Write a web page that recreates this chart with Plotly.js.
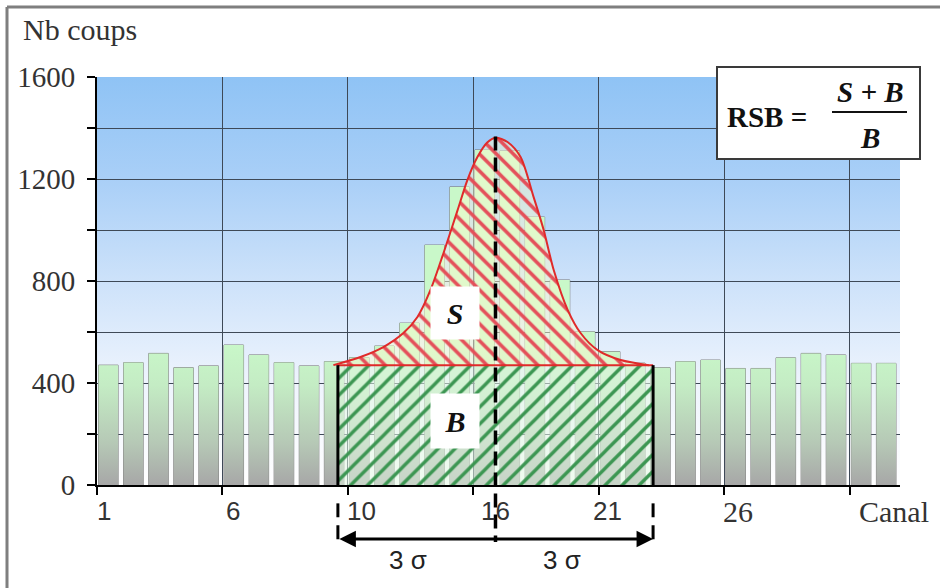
<!DOCTYPE html>
<html><head><meta charset="utf-8">
<script src="https://cdn.plot.ly/plotly-3.0.1.min.js"></script>
<style>html,body{margin:0;padding:0;background:#fff}#chart{width:940px;height:588px}</style>
</head><body><div id="chart"></div>
<script>
// ---- data ----
const channels = [1,2,3,4,5,6,7,8,9,10,11,12,13,14,15,16,17,18,19,20,21,22,23,24,25,26,27,28,29,30,31,32];
const counts   = [470,480,516,460,467,549,510,480,467,484,500,545,635,941,1169,1314,1310,1051,804,601,523,478,460,484,490,457,457,499,516,510,477,477];
// fitted signal curve (S + B)
const fitX = [9.92,11.0,11.91,12.71,13.27,13.79,14.31,14.87,15.26,15.66,16.05,16.38,16.86,17.38,17.9,18.3,18.7,19.26,19.77,20.45,21.37,22.49];
const fitY = [470,502,541,596,659,765,910,1078,1196,1286,1343,1362,1345,1286,1129,1000,843,686,596,529,490,470];
const background = 470;      // B level
const peakChannel = 16.38;   // centre of the peak
const threeSigma = 6.28;     // 3 sigma in channels
const yTickVals = [0,200,400,600,800,1000,1200,1400,1600];
const yTickText = ['0','','400','','800','','1200','','1600'];
const xLabels = ['1','6','10','16','21','26','Canal'];
const xLabelPos = [0.78,5.93,11.03,16.38,20.85,26.04,32.26];
const xLabelSerif = [false,false,false,false,false,true,true];

const serif = 'Liberation Serif, Times New Roman, serif';
const sans = 'Liberation Sans, DejaVu Sans, Arial, sans-serif';

// bar gradient bodies
const bw = 0.78, boff = -0.44;
const gx = [], gy = [];
channels.forEach((c, i) => {
  gx.push(c + boff, c + boff, c + boff + bw, c + boff + bw, null);
  gy.push(0, counts[i], counts[i], 0, null);
});

const L = peakChannel - threeSigma, R = peakChannel + threeSigma;
const peakTop = Math.max(...fitY);

const traces = [
  { type: 'scatter', mode: 'lines', x: gx, y: gy, fill: 'toself', connectgaps: false,
    line: { width: 0, color: 'rgba(0,0,0,0)' },
    fillgradient: { type: 'vertical', start: 0, stop: 560,
      colorscale: [[0, '#a7a7a7'], [0.3, '#b6c9b6'], [0.7, '#c4ecc4'], [1, '#c9f8c9']] },
    hoverinfo: 'skip', showlegend: false },
  { type: 'bar', x: channels, y: counts, width: bw, offset: boff,
    marker: { color: 'rgba(0,0,0,0)', line: { color: '#7d7d7d', width: 1 } },
    hoverinfo: 'skip', showlegend: false },
  // background area B
  { type: 'scatter', mode: 'lines', x: [L, L, R, R], y: [0, background, background, 0],
    fill: 'toself', line: { width: 0, color: 'rgba(0,0,0,0)' },
    fillpattern: { shape: '/', fgcolor: '#3c9652', bgcolor: 'rgba(225,248,225,0.55)', size: 12, solidity: 0.28 },
    hoverinfo: 'skip', showlegend: false },
  // signal area S
  { type: 'scatter', mode: 'lines', x: fitX, y: fitY, fill: 'toself',
    line: { color: '#e02a2a', width: 2, shape: 'spline', smoothing: 0.8 },
    fillpattern: { shape: '\\', fgcolor: '#e4505a', bgcolor: 'rgba(250,250,205,0.5)', size: 12, solidity: 0.3 },
    hoverinfo: 'skip', showlegend: false }
];

const px2x = p => (p - 97) / 803;
const py2y = p => (485 - p) / 408;

const shapes = [
  // outer frame
  { type: 'line', xref: 'paper', yref: 'paper', x0: px2x(7), x1: px2x(7), y0: py2y(7), y1: py2y(592), line: { color: '#7f7f7f', width: 3 } },
  { type: 'line', xref: 'paper', yref: 'paper', x0: px2x(7), x1: px2x(942), y0: py2y(7), y1: py2y(7), line: { color: '#7f7f7f', width: 3 } },
  // right border of plot
  { type: 'line', xref: 'x', yref: 'y', x0: 32.5, x1: 32.5, y0: 0, y1: 1600, line: { color: '#9a9a9a', width: 1 }, layer: 'below' },
  // red baseline of S
  { type: 'line', xref: 'x', yref: 'y', x0: L, x1: R, y0: background, y1: background, line: { color: '#e02a2a', width: 2 } },
  // solid black edges of B
  { type: 'line', xref: 'x', yref: 'y', x0: L, x1: L, y0: 0, y1: background, line: { color: '#000', width: 3 } },
  { type: 'line', xref: 'x', yref: 'y', x0: R, x1: R, y0: 0, y1: background, line: { color: '#000', width: 3 } },
  // dashed continuations below axis
  { type: 'line', xref: 'x', yref: 'paper', x0: L, x1: L, y0: -0.045, y1: py2y(545), line: { color: '#000', width: 3, dash: '14px,8px' } },
  { type: 'line', xref: 'x', yref: 'paper', x0: R, x1: R, y0: -0.045, y1: py2y(545), line: { color: '#000', width: 3, dash: '14px,8px' } },
  // centre dashed line
  { type: 'line', xref: 'x', yref: 'paper', x0: peakChannel, x1: peakChannel, y0: (peakTop + 5) / 1600, y1: py2y(542), line: { color: '#000', width: 3.5, dash: '14px,7px' } },
  // RSB box
  { type: 'rect', xref: 'paper', yref: 'paper', x0: px2x(717), x1: px2x(920), y0: py2y(159), y1: py2y(67),
    fillcolor: '#ffffff', line: { color: '#3a3a3a', width: 2 } },
  { type: 'line', xref: 'paper', yref: 'paper', x0: px2x(832), x1: px2x(907), y0: py2y(112), y1: py2y(112), line: { color: '#111', width: 2 } }
];

const annotations = [
  { text: 'Nb coups', xref: 'paper', yref: 'paper', x: px2x(21), y: py2y(30), xanchor: 'left', yanchor: 'middle',
    showarrow: false, font: { family: serif, size: 30, color: '#333' } },
  { text: '<b><i>S</i></b>', xref: 'x', yref: 'y', x: 14.75, y: 675, xanchor: 'center', yanchor: 'middle', showarrow: false, bgcolor: '#ffffff',
    width: 46, height: 50, font: { family: serif, size: 30, color: '#111' } },
  { text: '<b><i>B</i></b>', xref: 'x', yref: 'y', x: 14.75, y: 251, xanchor: 'center', yanchor: 'middle', showarrow: false, bgcolor: '#ffffff',
    width: 46, height: 52, font: { family: serif, size: 30, color: '#111' } },
  { text: '3 σ', xref: 'x', yref: 'paper', x: 12.9, y: py2y(560), xanchor: 'center', yanchor: 'middle', showarrow: false, font: { family: sans, size: 26, color: '#222' } },
  { text: '3 σ', xref: 'x', yref: 'paper', x: 19.02, y: py2y(560), xanchor: 'center', yanchor: 'middle', showarrow: false, font: { family: sans, size: 26, color: '#222' } },
  { text: '<b>RSB =</b>', xref: 'paper', yref: 'paper', x: px2x(725), y: py2y(117), xanchor: 'left', yanchor: 'middle', showarrow: false,
    font: { family: serif, size: 29, color: '#111' } },
  { text: '<b><i>S + B</i></b>', xref: 'paper', yref: 'paper', x: px2x(870), y: py2y(92), xanchor: 'center', yanchor: 'middle', showarrow: false,
    font: { family: serif, size: 29, color: '#111' } },
  { text: '<b><i>B</i></b>', xref: 'paper', yref: 'paper', x: px2x(870), y: py2y(138), xanchor: 'center', yanchor: 'middle', showarrow: false,
    font: { family: serif, size: 29, color: '#111' } },
  { text: '', xref: 'x', yref: 'paper', x: R, y: py2y(539), axref: 'x', ax: L, ayref: 'pixel', ay: 0,
    showarrow: true, arrowside: 'end+start', arrowhead: 2, arrowsize: 1.1, arrowwidth: 3, arrowcolor: '#000',
    standoff: 0, startstandoff: 0 }
];
xLabels.forEach((t, i) => {
  annotations.push({ text: t, xref: 'x', yref: 'paper', x: xLabelPos[i], y: py2y(511), xanchor: 'center', yanchor: 'middle', showarrow: false,
    font: { family: xLabelSerif[i] ? serif : sans, size: xLabelSerif[i] ? 30 : 26, color: '#333' } });
});

const bgSvg = "<svg xmlns='http://www.w3.org/2000/svg' width='100' height='100' preserveAspectRatio='none'>" +
  "<defs><linearGradient id='g' x1='0' y1='0' x2='0' y2='1'>" +
  "<stop offset='0' stop-color='#8fc3f5'/><stop offset='0.25' stop-color='#a9cff7'/>" +
  "<stop offset='0.5' stop-color='#cde2fa'/><stop offset='0.75' stop-color='#eef4fd'/>" +
  "<stop offset='1' stop-color='#ffffff'/></linearGradient></defs>" +
  "<rect width='100' height='100' fill='url(#g)'/></svg>";

const layout = {
  width: 940, height: 588, autosize: false,
  margin: { l: 97, r: 40, t: 77, b: 103, pad: 0 },
  paper_bgcolor: '#ffffff', plot_bgcolor: 'rgba(0,0,0,0)',
  showlegend: false,
  xaxis: { range: [0.5, 32.5], tick0: 0.5, dtick: 5, showticklabels: false,
    showgrid: true, gridcolor: '#3e4957', gridwidth: 1, zeroline: false,
    showline: true, linecolor: '#000', linewidth: 2,
    ticks: 'outside', ticklen: 8, tickwidth: 2, tickcolor: '#000' },
  yaxis: { range: [0, 1600], tickmode: 'array', tickvals: yTickVals, ticktext: yTickText,
    showgrid: true, gridcolor: '#3e4957', gridwidth: 1, zeroline: false,
    showline: true, linecolor: '#000', linewidth: 2,
    ticks: 'outside', ticklen: 8, tickwidth: 2, tickcolor: '#000', ticklabelstandoff: 6,
    tickfont: { family: serif, size: 29, color: '#333' } },
  images: [{ source: 'data:image/svg+xml;charset=utf-8,' + encodeURIComponent(bgSvg),
    xref: 'x', yref: 'y', x: 0.5, y: 1600, sizex: 32, sizey: 1600, sizing: 'stretch',
    xanchor: 'left', yanchor: 'top', layer: 'below' }],
  shapes: shapes,
  annotations: annotations
};

Plotly.newPlot('chart', traces, layout, { staticPlot: true, displayModeBar: false });
</script>
</body></html>
